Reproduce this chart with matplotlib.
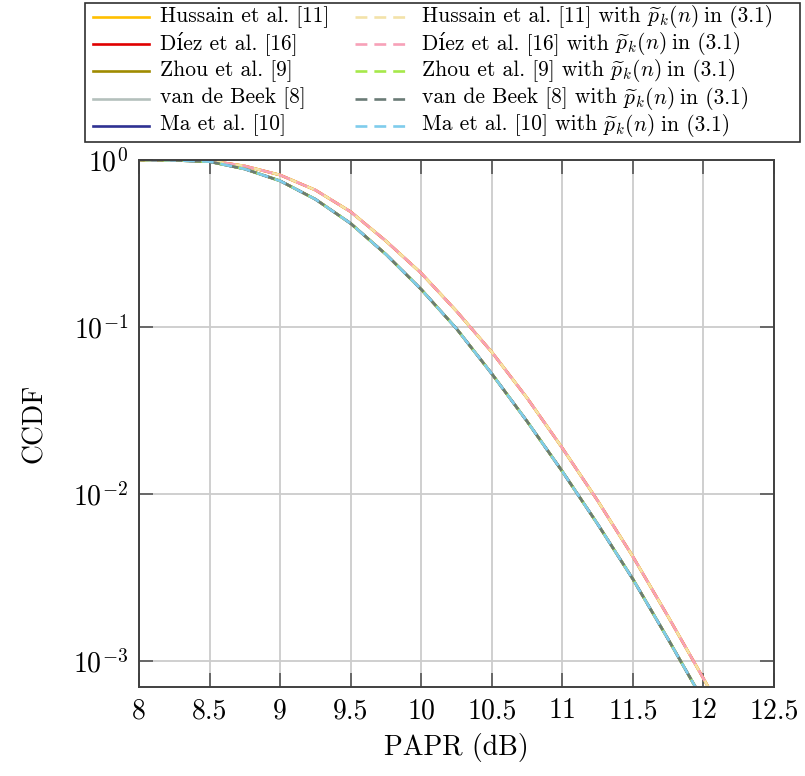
import numpy as np
import matplotlib
matplotlib.use("Agg")
import matplotlib.pyplot as plt
from matplotlib.lines import Line2D
from matplotlib.patches import Rectangle

plt.rcParams["font.family"] = ["cmr10", "DejaVu Serif"]
plt.rcParams["mathtext.fontset"] = "cm"
plt.rcParams["axes.formatter.use_mathtext"] = True

# PAPR grid (dB) and log10(CCDF)
papr = [8.0, 8.25, 8.5, 8.75, 9.0, 9.25, 9.5, 9.75, 10.0, 10.25, 10.5,
        10.75, 11.0, 11.25, 11.5, 11.75, 12.0, 12.25]
log_upper = [0.0, -0.001, -0.004, -0.036, -0.090, -0.180, -0.310, -0.485,
             -0.678, -0.905, -1.150, -1.425, -1.725, -2.040, -2.375,
             -2.735, -3.105, -3.480]
log_lower = [0.0, -0.002, -0.010, -0.054, -0.125, -0.235, -0.380, -0.565,
             -0.775, -1.010, -1.280, -1.565, -1.865, -2.180, -2.510,
             -2.870, -3.240, -3.620]

methods = ["Hussain et al. [11]", "Díez et al. [16]", "Zhou et al. [9]",
           "van de Beek [8]", "Ma et al. [10]"]
group = ["upper", "upper", "lower", "lower", "lower"]
solid_colors = ["#FFBF00", "#E00000", "#9F8B00", "#B4C0BC", "#2E3192"]
dash_colors = ["#F3E2A9", "#F7A1B8", "#A6E84A", "#6A7B76", "#7FCCEC"]
dash_offsets = [0.0, 3.6, 0.0, 2.4, 4.8]
dash_pat = (4.5, 2.65)

curves = {"upper": 10 ** np.array(log_upper), "lower": 10 ** np.array(log_lower)}

W, H = 805, 776
fig = plt.figure(figsize=(W / 100, H / 100), dpi=100)
ax = fig.add_axes([139 / W, 1 - 687 / H, 635 / W, 527 / H])

for name, g, c in reversed(list(zip(methods, group, solid_colors))):
    ax.plot(papr, curves[g], color=c, lw=1.9)
for name, g, c, off in zip(methods, group, dash_colors, dash_offsets):
    ax.plot(papr, curves[g], color=c, lw=1.9, ls=(off, dash_pat))

ax.set_yscale("log")
ax.set_xlim(8, 12.5)
ax.set_ylim(10 ** -3.156, 1)
ax.set_xticks(np.arange(8, 12.51, 0.5))
ax.set_xticklabels(["8", "8.5", "9", "9.5", "10", "10.5", "11", "11.5", "12", "12.5"])
ax.set_yticks([1e-3, 1e-2, 1e-1, 1e0])
ax.yaxis.set_minor_locator(matplotlib.ticker.NullLocator())
ax.grid(True, color="#cccccc", lw=1.3)
ax.set_axisbelow(True)
ax.tick_params(direction="in", length=10, width=1.2, color="#555555",
               top=True, right=True, labelsize=20, pad=8)
for s in ax.spines.values():
    s.set_color("#404040")
    s.set_linewidth(1.4)

ax.set_xlabel("PAPR (dB)", fontsize=20, labelpad=6)
ax.set_ylabel("CCDF", fontsize=20, labelpad=18)

# legend, laid out by hand so both columns share rows
def fx(px):
    return px / W

def fy(py):
    return 1 - py / H

fs = 15.5
rows = [16.7, 44, 71, 98.5, 125.6]
fig.add_artist(Rectangle((fx(85), fy(142)), fx(800) - fx(85), fy(3) - fy(142),
                         transform=fig.transFigure, fill=False,
                         ec="#303030", lw=1.2))
renderer = fig.canvas.get_renderer()
for r, name, c1, c2 in zip(rows, methods, solid_colors, dash_colors):
    fig.add_artist(Line2D([fx(93), fx(149)], [fy(r), fy(r)],
                          transform=fig.transFigure, color=c1, lw=1.9))
    fig.add_artist(Line2D([fx(355), fx(405)], [fy(r), fy(r)],
                          transform=fig.transFigure, color=c2, lw=1.9,
                          ls=(0, dash_pat)))
    fig.text(fx(160), fy(r + 5), name, fontsize=fs, va="baseline")
    x = 422
    for piece in [name + " with", r"$\widetilde{p}_k(n)$", "in (3.1)"]:
        t = fig.text(fx(x), fy(r + 5), piece, fontsize=fs, va="baseline")
        x = t.get_window_extent(renderer).x1 + 6

fig.savefig("out.png", dpi=100)
